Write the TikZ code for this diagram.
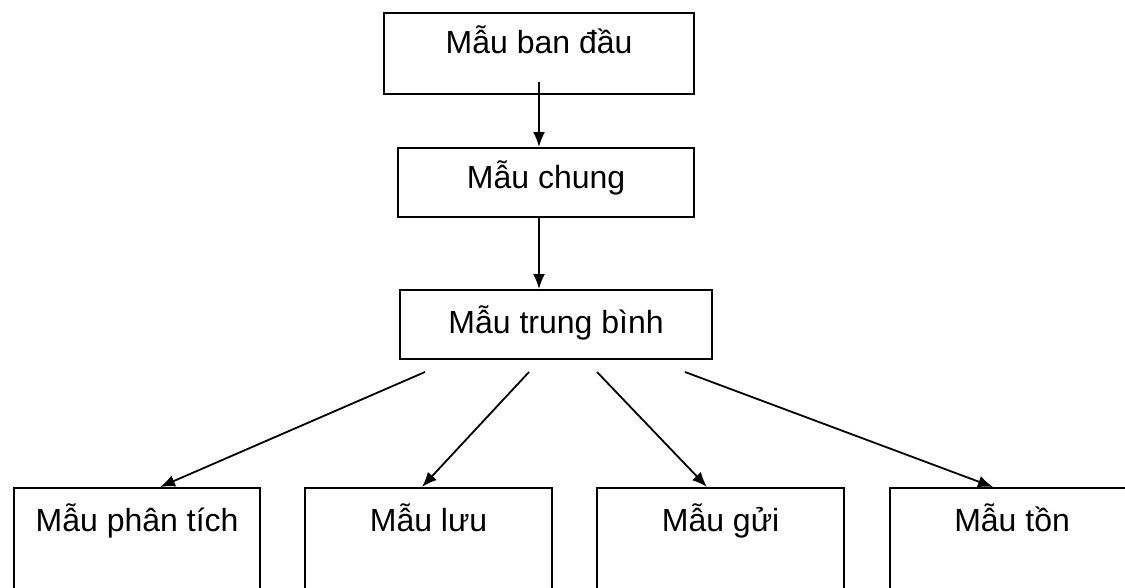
\documentclass[tikz,border=0pt]{standalone}
\usepackage{fontspec}
\setmainfont{Liberation Sans}
\usetikzlibrary{arrows.meta}
\tikzset{
  box/.style={draw=black, line width=2.2pt, rectangle, inner sep=0pt, anchor=north west,
    font=\fontsize{32}{38}\selectfont, align=center},
  arr/.style={line width=1.8pt, -{Latex[length=15pt,width=12pt]}}
}
\begin{document}
\begin{tikzpicture}[x=1pt,y=-1pt]
\clip (0,0) rectangle (1125,587);
\fill[white] (0,0) rectangle (1125,587);
% boxes
\node[box, minimum width=310pt, text height=40pt, text depth=41pt] (ban) at (383,12) {Mẫu ban đầu};
\node[box, minimum width=296pt, text height=40pt, text depth=29pt] (chung) at (397,147) {Mẫu chung};
\node[box, minimum width=312pt, text height=43pt, text depth=26pt] (tb) at (399,289) {Mẫu trung bình};
\node[box, minimum width=246pt, text height=43pt, text depth=80pt] (phan) at (13,487) {Mẫu phân tích};
\node[box, minimum width=247pt, text height=43pt, text depth=80pt] (luu) at (304,487) {Mẫu lưu};
\node[box, minimum width=247pt, text height=43pt, text depth=80pt] (gui) at (596,487) {Mẫu gửi};
\node[box, minimum width=244pt, text height=43pt, text depth=80pt] (ton) at (889,487) {Mẫu tồn};
% connector start points
\coordinate (c1) at (539,82);
\coordinate (c2) at (539,218);
\coordinate (d1) at (425,372);
\coordinate (d2) at (529,372);
\coordinate (d3) at (597,372);
\coordinate (d4) at (685,372);
% connectors
\draw[arr] (c1) -- (c1 |- chung.north);
\draw[arr] (c2) -- (c2 |- tb.north);
\draw[arr] (d1) -- ([xshift=147pt]phan.north west);
\draw[arr] (d2) -- ([xshift=118pt]luu.north west);
\draw[arr] (d3) -- ([xshift=111pt]gui.north west);
\draw[arr] (d4) -- ([xshift=104pt]ton.north west);
\end{tikzpicture}
\end{document}
